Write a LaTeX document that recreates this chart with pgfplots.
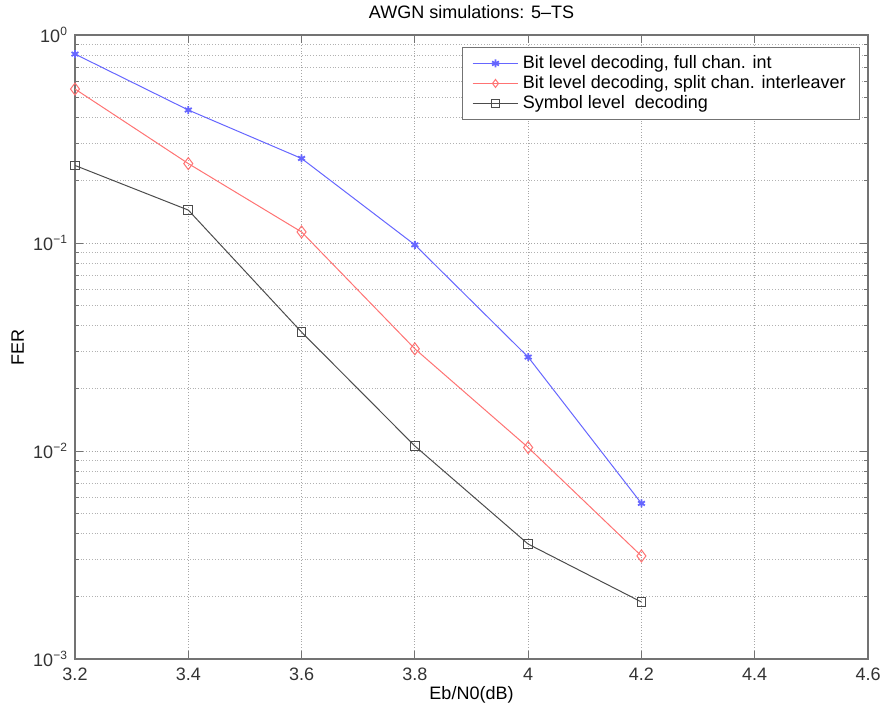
\documentclass[border=0pt]{standalone}
\usepackage{pgfplots}
\pgfplotsset{compat=1.18}
\usepackage{fontspec}
\setmainfont{Liberation Sans}
\begin{document}
\begin{tikzpicture}
\path[use as bounding box] (-37.5pt,-27pt) rectangle (405.5pt,329.5pt);
\begin{axis}[
  at={(0,0)}, anchor=south west,
  scale only axis, width=396.5pt, height=312pt,
  ymode=log,
  xmin=3.2, xmax=4.6, ymin=1e-3, ymax=1,
  xtick={3.2,3.4,3.6,3.8,4,4.2,4.4,4.6},
  xticklabels={3.2,3.4,3.6,3.8,4,4.2,4.4,4.6},
  ytick={1e-3,1e-2,1e-1,1},
  yticklabels={10\textsuperscript{−3},10\textsuperscript{−2},10\textsuperscript{−1},10\textsuperscript{0}},
  font=\fontsize{9}{10}\selectfont,
  tick label style={font=\fontsize{9}{10}\selectfont, black!80},
  tick align=inside,
  major tick length=4pt, minor tick length=2pt,
  axis line style={black!55, line width=0.6pt},
  every tick/.style={black!55},
  grid=both,
  major grid style={black!35, densely dotted, line width=0.4pt},
  minor grid style={black!30, densely dotted, line width=0.4pt},
  minor x tick num=0,
  title={AWGN simulations: 5–TS},
  title style={at={(0.5,1)}, anchor=south, yshift=1pt, inner sep=1pt, font=\fontsize{9}{10}\selectfont},
  xlabel={Eb/N0(dB)},
  ylabel={FER},
  xlabel style={at={(0.5,0)}, anchor=north, yshift=-10pt},
  ylabel style={at={(0,0.5)}, anchor=south, yshift=22pt},
  xticklabel style={yshift=-1pt},
  legend style={at={(rel axis cs:1,1)}, anchor=north east, xshift=-4pt, yshift=-6pt,
    draw=black!55, fill=white, font=\fontsize{9}{11}\selectfont,
    legend cell align=left, row sep=-2pt, inner xsep=5pt, inner ysep=2pt},
  legend image code/.code={\draw[mark repeat=2,mark phase=2] plot coordinates {(0cm,0cm) (0.4cm,0cm) (0.8cm,0cm)};},
  legend image post style={mark size=2pt},
]
\addplot[blue!60, line width=0.5pt, mark=asterisk, mark size=2pt, mark options={line width=0.9pt}]
coordinates {(3.2,0.81) (3.4,0.436) (3.6,0.255) (3.8,0.098) (4.0,0.0283) (4.2,0.0056)};
\addlegendentry{Bit level decoding, full chan. int}
\addplot[red!55, line width=0.5pt, mark=diamond, mark size=3pt]
coordinates {(3.2,0.55) (3.4,0.241) (3.6,0.113) (3.8,0.031) (4.0,0.0104) (4.2,0.00313)};
\addlegendentry{Bit level decoding, split chan. interleaver}
\addplot[black!70, line width=0.5pt, mark=square, mark size=2.2pt]
coordinates {(3.2,0.236) (3.4,0.144) (3.6,0.0373) (3.8,0.01057) (4.0,0.00357) (4.2,0.00188)};
\addlegendentry{Symbol level\ \ decoding}
\end{axis}
\end{tikzpicture}
\end{document}
